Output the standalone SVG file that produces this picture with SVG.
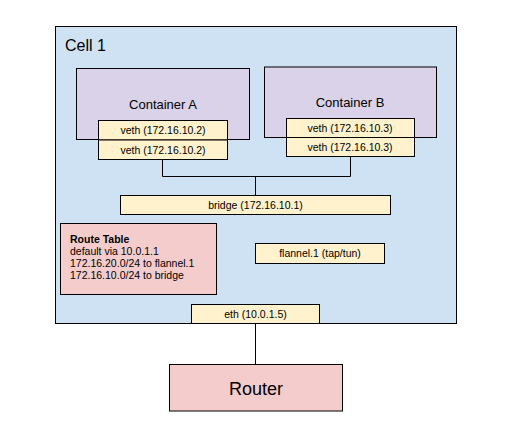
<svg xmlns="http://www.w3.org/2000/svg" width="513" height="431" viewBox="0 0 513 431">
<style>
rect{stroke:#000;stroke-width:1}
.cell{fill:#cfe2f3}
.cont{fill:#d9d2e9}
.y{fill:#fff2cc}
.p{fill:#f4cccc}
text{font-family:"Liberation Sans",Arial,sans-serif;fill:#000}
.s{font-size:10.5px;text-anchor:middle}
.m{font-size:13px;text-anchor:middle}
.r{font-size:10.5px}
line{stroke:#000;stroke-width:1;fill:none}
</style>
<g id="cell1">
<rect class="cell" x="55.5" y="26.5" width="401" height="297"/>
<text x="65" y="51" font-size="16">Cell 1</text>
</g>
<g id="containerA">
<rect class="cont" x="76.5" y="68.5" width="173" height="71"/>
<text class="m" x="163" y="109">Container A</text>
</g>
<g id="containerB">
<rect class="cont" x="264.5" y="67" width="172" height="70.5"/>
<text class="m" x="350" y="107">Container B</text>
</g>
<g id="vethA1">
<rect class="y" x="98.5" y="120.5" width="129" height="19.5"/>
<text class="s" x="163" y="134">veth (172.16.10.2)</text>
</g>
<g id="vethA2">
<rect class="y" x="98.5" y="140" width="129" height="19.5"/>
<text class="s" x="163" y="153.5">veth (172.16.10.2)</text>
</g>
<g id="vethB1">
<rect class="y" x="286.5" y="118.5" width="128" height="19"/>
<text class="s" x="350" y="132">veth (172.16.10.3)</text>
</g>
<g id="vethB2">
<rect class="y" x="286.5" y="137.5" width="128" height="19"/>
<text class="s" x="350" y="151">veth (172.16.10.3)</text>
</g>
<g id="connectors">
<line x1="162.5" y1="159.5" x2="162.5" y2="176.5"/>
<line x1="350.5" y1="156.5" x2="350.5" y2="176.5"/>
<line x1="162.5" y1="176.5" x2="350.5" y2="176.5"/>
<line x1="255.5" y1="176.5" x2="255.5" y2="195.5"/>
<line x1="255.5" y1="323.5" x2="255.5" y2="364.5"/>
</g>
<g id="bridge">
<rect class="y" x="120.5" y="195.5" width="270" height="19"/>
<text class="s" x="255.5" y="209">bridge (172.16.10.1)</text>
</g>
<g id="routeTable">
<rect class="p" x="60.5" y="223.5" width="156" height="71"/>
<text class="r" x="70" y="243" font-weight="bold">Route Table</text>
<text class="r" x="70" y="255">default via 10.0.1.1</text>
<text class="r" x="70" y="267">172.16.20.0/24 to flannel.1</text>
<text class="r" x="70" y="279">172.16.10.0/24 to bridge</text>
</g>
<g id="flannel">
<rect class="y" x="255.5" y="243.5" width="129" height="20"/>
<text class="s" x="320" y="257">flannel.1 (tap/tun)</text>
</g>
<g id="eth">
<rect class="y" x="191.5" y="304.5" width="128" height="19"/>
<text class="s" x="255.5" y="318">eth (10.0.1.5)</text>
</g>
<g id="router">
<rect class="p" x="169.5" y="364.5" width="173" height="46.5"/>
<text x="256" y="395" font-size="18" text-anchor="middle">Router</text>
</g>
</svg>
